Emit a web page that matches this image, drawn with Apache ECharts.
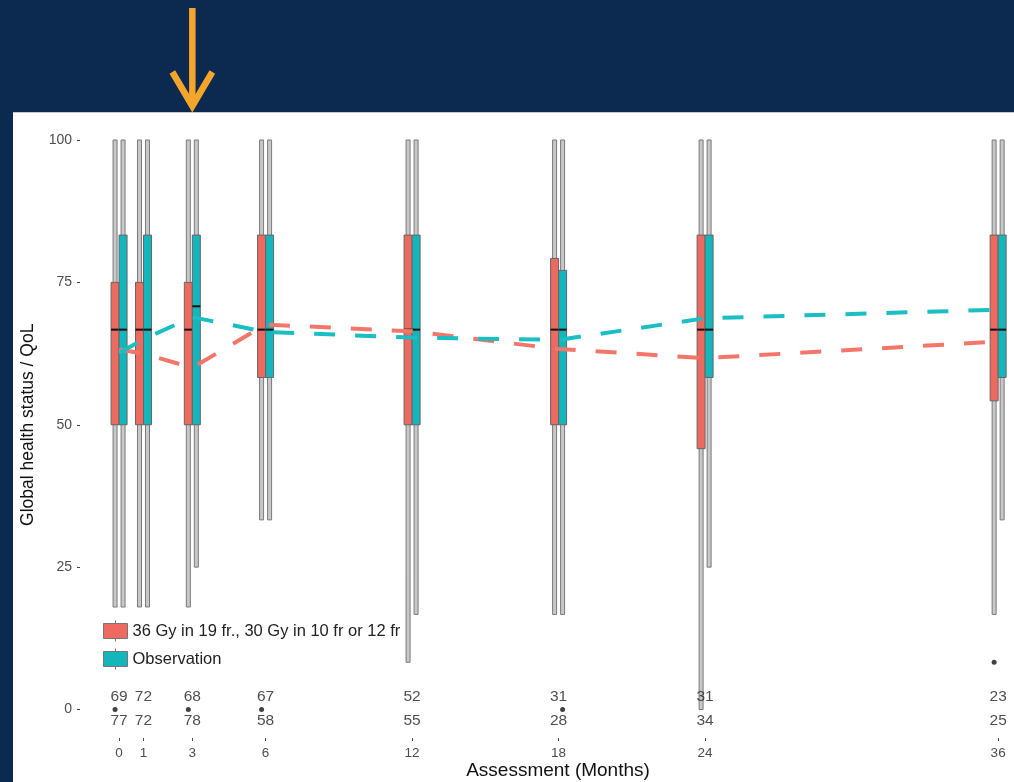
<!DOCTYPE html>
<html>
<head>
<meta charset="utf-8">
<script src="https://cdn.jsdelivr.net/npm/echarts@6/dist/echarts.min.js"></script>
<style>
  html, body { margin: 0; padding: 0; background: #0c2a4f; }
  #chart { width: 1014px; height: 782px; }
</style>
</head>
<body>
<div id="chart"></div>
<script>
// Assessment time points (months)
const months = [0, 1, 3, 6, 12, 18, 24, 36];

const armLabel = '36 Gy in 19 fr., 30 Gy in 10 fr or 12 fr';
const obsLabel = 'Observation';

// Box statistics per time point: [lower whisker, Q1, median, Q3, upper whisker]
const armStats = [
  [18, 50, 66.7, 75, 100],
  [18, 50, 66.7, 75, 100],
  [18, 50, 66.7, 75, 100],
  [33.3, 58.3, 66.7, 83.3, 100],
  [8.3, 50, 66.7, 83.3, 100],
  [16.7, 50, 66.7, 79.2, 100],
  [0, 45.8, 66.7, 83.3, 100],
  [16.7, 54.2, 66.7, 83.3, 100]
];
const obsStats = [
  [18, 50, 66.7, 83.3, 100],
  [18, 50, 66.7, 83.3, 100],
  [25, 50, 70.8, 83.3, 100],
  [33.3, 58.3, 66.7, 83.3, 100],
  [16.7, 50, 66.7, 83.3, 100],
  [16.7, 50, 66.7, 77.1, 100],
  [25, 58.3, 66.7, 83.3, 100],
  [33.3, 58.3, 66.7, 83.3, 100]
];

// Mean scores (dashed lines)
const armMeans = [63.2, 62.5, 60.0, 67.6, 66.4, 63.3, 61.7, 64.6];
const obsMeans = [62.6, 65.0, 68.9, 66.3, 65.3, 64.9, 68.7, 70.2];

// Outlying observations [month, score]
const armOutliers = [[0, 0], [3, 0], [6, 0], [36, 8.3]];
const obsOutliers = [[18, 0]];

// Patients assessed at each time point
const armAtRisk = [69, 72, 68, 67, 52, 31, 31, 23];
const obsAtRisk = [77, 72, 78, 58, 55, 28, 34, 25];

const yTicks = [0, 25, 50, 75, 100];

const ARM_COLOR = '#ee6a5f';
const OBS_COLOR = '#14b6bc';
const BOX_W = 8;
const ROW_TOP = 2.3;
const ROW_BOTTOM = -1.9;
const FONT = 'Liberation Sans, Arial, sans-serif';

function boxRenderer(side, color) {
  return function (params, api) {
    const m = api.value(0);
    const lo = api.coord([m, api.value(1)]);
    const q1 = api.coord([m, api.value(2)]);
    const med = api.coord([m, api.value(3)]);
    const q3 = api.coord([m, api.value(4)]);
    const hi = api.coord([m, api.value(5)]);
    const cx = med[0] + side * BOX_W / 2;
    return {
      type: 'group',
      children: [
        { type: 'rect',
          shape: { x: cx - 2, y: hi[1], width: 4, height: lo[1] - hi[1] },
          style: { fill: '#c8c8c8', stroke: '#7a7a7a', lineWidth: 1 } },
        { type: 'rect',
          shape: { x: cx - BOX_W / 2, y: q3[1], width: BOX_W, height: q1[1] - q3[1] },
          style: { fill: color, stroke: '#666666', lineWidth: 1 } },
        { type: 'line',
          shape: { x1: cx - BOX_W / 2, y1: med[1], x2: cx + BOX_W / 2, y2: med[1] },
          style: { stroke: '#111', lineWidth: 2 } }
      ]
    };
  };
}

function atRiskSeries(counts, row) {
  return {
    type: 'scatter',
    symbolSize: 0,
    silent: true,
    z: 6,
    data: months.map((m, i) => [m, row, counts[i]]),
    label: {
      show: true, position: 'inside',
      formatter: p => String(p.value[2]),
      fontSize: 15.5, color: '#222', fontFamily: FONT
    }
  };
}

const chart = echarts.init(document.getElementById('chart'));

chart.setOption({
  backgroundColor: '#0c2a4f',
  animation: false,
  textStyle: { fontFamily: FONT },
  grid: { left: 80, right: 0, top: 111.5, bottom: 44, outerBoundsMode: 'none', containLabel: false },
  xAxis: {
    type: 'value', min: -1.6, max: 36.65,
    axisLine: { show: false, onZero: false },
    splitLine: { show: false },
    axisTick: { show: true, length: 3, customValues: months, lineStyle: { color: '#444' } },
    axisLabel: { customValues: months, fontSize: 13.5, color: '#4d4d4d', margin: 8 },
    name: 'Assessment (Months)', nameLocation: 'middle', nameGap: 23,
    nameMoveOverlap: false,
    nameTextStyle: { fontSize: 19, color: '#111', padding: [0, 0, 0, 22] }
  },
  yAxis: {
    type: 'value', min: -5, max: 105,
    axisLine: { show: false, onZero: false },
    splitLine: { show: false },
    axisTick: { show: true, length: 3, customValues: yTicks, lineStyle: { color: '#444' } },
    axisLabel: { customValues: yTicks, fontSize: 14, color: '#4d4d4d', margin: 8 },
    name: 'Global health status / QoL', nameLocation: 'middle', nameGap: 43,
    nameMoveOverlap: false,
    nameTextStyle: { fontSize: 17.5, color: '#111' }
  },
  legend: {
    data: [armLabel, obsLabel],
    orient: 'vertical', left: 98, top: 615,
    itemWidth: 24, itemHeight: 21, itemGap: 6,
    icon: 'path://M0,3H24V18H0Z M12,0V3 M12,18V21',
    itemStyle: { borderColor: '#777', borderWidth: 1 },
    textStyle: { fontSize: 16.5, color: '#222', fontFamily: FONT },
    selectedMode: false
  },
  graphic: [
    { id: 'panel', type: 'rect', z: -10, silent: true,
      shape: { x: 13, y: 112, width: 1001, height: 670 },
      style: { fill: '#ffffff' } },
    { id: 'panelEdge', type: 'line', z: -9, silent: true,
      shape: { x1: 13, y1: 112.5, x2: 1014, y2: 112.5 },
      style: { stroke: '#c3c8cf', lineWidth: 1 } }
  ],
  series: [
    { name: armLabel, type: 'custom', z: 2,
      itemStyle: { color: ARM_COLOR },
      renderItem: boxRenderer(-1, ARM_COLOR),
      encode: { x: 0, y: [1, 2, 3, 4, 5] },
      data: months.map((m, i) => [m].concat(armStats[i])) },
    { name: obsLabel, type: 'custom', z: 2,
      itemStyle: { color: OBS_COLOR },
      renderItem: boxRenderer(1, OBS_COLOR),
      encode: { x: 0, y: [1, 2, 3, 4, 5] },
      data: months.map((m, i) => [m].concat(obsStats[i])) },
    { name: 'armMean', type: 'line', z: 4, symbol: 'none',
      lineStyle: { color: '#f4766b', width: 4, type: [21, 20] },
      data: months.map((m, i) => [m, armMeans[i]]) },
    { name: 'obsMean', type: 'line', z: 4, symbol: 'none',
      lineStyle: { color: '#1bbec3', width: 4, type: [21, 20] },
      data: months.map((m, i) => [m, obsMeans[i]]) },
    { name: 'armOut', type: 'scatter', z: 5, symbolSize: 5,
      symbolOffset: [-BOX_W / 2, 0], itemStyle: { color: '#111' },
      data: armOutliers },
    { name: 'obsOut', type: 'scatter', z: 5, symbolSize: 5,
      symbolOffset: [BOX_W / 2, 0], itemStyle: { color: '#111' },
      data: obsOutliers },
    atRiskSeries(armAtRisk, ROW_TOP),
    atRiskSeries(obsAtRisk, ROW_BOTTOM)
  ]
});

// Orange arrow pointing at the 3-month assessment
const ax = chart.convertToPixel({ xAxisIndex: 0 }, 3);
chart.setOption({
  graphic: [
    { id: 'arrowShaft', type: 'line', z: 10, silent: true,
      shape: { x1: ax, y1: 8, x2: ax, y2: 104 },
      style: { stroke: '#f5a62a', lineWidth: 6.5 } },
    { id: 'arrowHead', type: 'polyline', z: 10, silent: true,
      shape: { points: [[ax - 20, 72], [ax, 106], [ax + 20, 72]] },
      style: { stroke: '#f5a62a', lineWidth: 6.5, fill: null, lineJoin: 'miter' } }
  ]
});
</script>
</body>
</html>
